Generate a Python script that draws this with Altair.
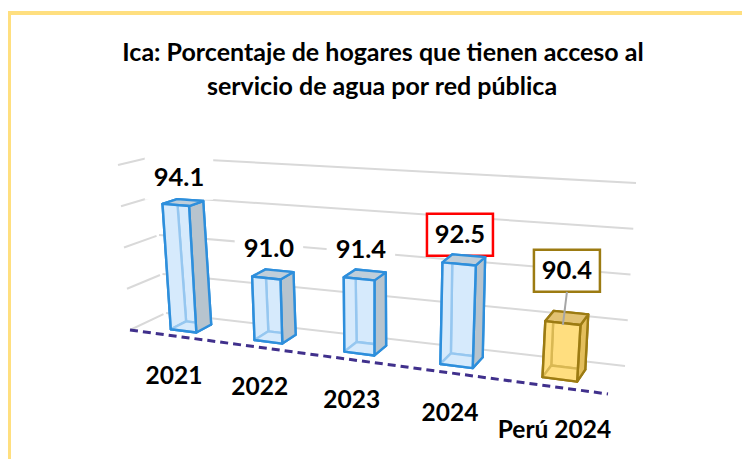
import altair as alt
import pandas as pd

# ---- chart values ----
categories = ["2021", "2022", "2023", "2024", "Perú 2024"]
values = [94.1, 91.0, 91.4, 92.5, 90.4]
value_labels = ["94.1", "91.0", "91.4", "92.5", "90.4"]
grid_values = [88, 90, 92, 94, 96]
title_lines = ["Ica: Porcentaje de hogares que tienen acceso al",
               "servicio de agua por red pública"]

# ---- oblique view of the 3-D plot box: screen position of its corners ----
V_MIN, V_MAX = 88, 96
FLOOR = {"fl": (130, 330), "fr": (608, 394), "bl": (166, 313), "br": (625, 366)}
ROOF = {"fl": (118, 165), "fr": (622, 200), "bl": (152, 157), "br": (636, 183)}


def project(s, d, v):
    t = (v - V_MIN) / (V_MAX - V_MIN)
    out = []
    for k in (0, 1):
        fl = FLOOR["fl"][k] + (FLOOR["fr"][k] - FLOOR["fl"][k]) * s
        bl = FLOOR["bl"][k] + (FLOOR["br"][k] - FLOOR["bl"][k]) * s
        ft = ROOF["fl"][k] + (ROOF["fr"][k] - ROOF["fl"][k]) * s
        bt = ROOF["bl"][k] + (ROOF["br"][k] - ROOF["bl"][k]) * s
        lo = fl + (bl - fl) * d
        hi = ft + (bt - ft) * d
        out.append(lo + (hi - lo) * t)
    return out


def centre(i):
    return 0.092 + 0.173 * i + 0.0065 * i * i


def half(i):
    return 0.027 + 0.0024 * i


D0, D1 = 0.28, 0.72
BLUE = dict(stroke="#2E8FDC", front="rgba(214,234,252,0.62)", side="#B7C4CE",
            top="#BFCEDA", inner="#D6E9FB")
GOLD = dict(stroke="#9C7B12", front="rgba(255,221,125,0.62)", side="#E3BE5C",
            top="#E2C272", inner="#FFDF85")

polys = []


def face(name, corners, fill, stroke):
    for k, (s, d, v) in enumerate(corners):
        x, y = project(s, d, v)
        polys.append(dict(poly=name, k=k, x=x, y=y, fill=fill, stroke=stroke))


for i, v in enumerate(values):
    st = GOLD if i == len(values) - 1 else BLUE
    a, b = centre(i) - half(i), centre(i) + half(i)
    base = V_MIN
    face(f"{i:02d}a", [(a, D1, base), (b, D1, base), (b, D1, v), (a, D1, v)], st["inner"], st["stroke"])
    face(f"{i:02d}b", [(a, D0, base), (a, D1, base), (a, D1, v), (a, D0, v)], st["inner"], st["stroke"])
    face(f"{i:02d}c", [(a, D0, base), (b, D0, base), (b, D1, base), (a, D1, base)], st["inner"], st["stroke"])
    face(f"{i:02d}d", [(b, D0, base), (b, D1, base), (b, D1, v), (b, D0, v)], st["side"], st["stroke"])
    face(f"{i:02d}e", [(a, D0, v), (b, D0, v), (b, D1, v), (a, D1, v)], st["top"], st["stroke"])
    face(f"{i:02d}f", [(a, D0, base), (b, D0, base), (b, D0, v), (a, D0, v)], st["front"], st["stroke"])
poly_df = pd.DataFrame(polys)

grid = []
for g in grid_values:
    for name, pts in (("back", [(0, 1), (1, 1)]), ("left", [(0, 0), (0, 0.93)])):
        for k, (s, d) in enumerate(pts):
            x, y = project(s, d, g)
            grid.append(dict(line=f"{g}{name}", k=k, x=x, y=y))
grid_df = pd.DataFrame(grid)

base_df = pd.DataFrame([dict(k=k, x=project(s, 0, V_MIN)[0], y=project(s, 0, V_MIN)[1])
                        for k, s in enumerate((0, 1))])

# data labels hang from the bar tops; category labels from the front edge
labels = []
cats = []
for i, (v, lab, cat) in enumerate(zip(values, value_labels, categories)):
    tx, ty = project(centre(i), (D0 + D1) / 2, v)
    last = i == len(values) - 1
    lx, ly = tx + (0 if last else -4), ty - (47 if last else 25)
    box = "#9C7B12" if last else ("#FF0000" if cat == "2024" else "#FFFFFF")
    labels.append(dict(label=lab, x=lx, y=ly, x0=lx - 33, x1=lx + 33, y0=ly - 21, y1=ly + 21,
                       box=box, tipx=tx - 4, tipy=ty + 7, by=ly + 21))
    fx, fy = project(centre(i), 0, V_MIN)
    cats.append(dict(label=cat, x=fx, y=fy + (44 if last else 41)))
label_df = pd.DataFrame(labels)
cat_df = pd.DataFrame(cats)

title_df = pd.DataFrame({"label": title_lines, "x": [383, 382], "y": [53, 87]})
border_df = pd.DataFrame({"x": [8, 8], "x2": [750, 11], "y": [11, 11], "y2": [15, 459]})

SX = alt.Scale(domain=[8, 742], nice=False, zero=False)
SY = alt.Scale(domain=[459, 8], nice=False, zero=False)
X = alt.X("x:Q", scale=SX, axis=None)
Y = alt.Y("y:Q", scale=SY, axis=None)
FONT = "Lato"

border = alt.Chart(border_df).mark_rect(color="#FFDF7F").encode(x=X, x2="x2:Q", y=Y, y2="y2:Q")

grid_layer = alt.Chart(grid_df).mark_line(color="#D9D9D9", strokeWidth=2).encode(
    x=X, y=Y, detail="line:N", order="k:Q")

baseline = alt.Chart(base_df).mark_line(color="#40308C", strokeWidth=3, strokeDash=[8, 5]).encode(
    x=X, y=Y, order="k:Q")

bars = alt.Chart(poly_df).mark_line(interpolate="linear-closed", strokeWidth=2.4, strokeJoin="round").encode(
    x=X, y=Y, order="k:Q", detail="poly:N",
    fill=alt.Fill("fill:N", scale=None, legend=None),
    color=alt.Color("stroke:N", scale=None, legend=None))

boxes = alt.Chart(label_df).mark_rect(fill="white", strokeWidth=2.5).encode(
    x=alt.X("x0:Q", scale=SX, axis=None), x2="x1:Q",
    y=alt.Y("y0:Q", scale=SY, axis=None), y2="y1:Q",
    stroke=alt.Stroke("box:N", scale=None, legend=None))

tip = alt.Chart(label_df[label_df.label == "90.4"]).mark_rule(color="#A6A6A6", strokeWidth=2).encode(
    x=alt.X("x:Q", scale=SX, axis=None), x2="tipx:Q",
    y=alt.Y("by:Q", scale=SY, axis=None), y2="tipy:Q")

lab_text = alt.Chart(label_df).mark_text(font=FONT, fontWeight="bold", fontSize=25.5, color="black").encode(
    x=X, y=Y, text="label:N")
cat_text = alt.Chart(cat_df).mark_text(font=FONT, fontWeight="bold", fontSize=24.5, color="black").encode(
    x=X, y=Y, text="label:N")
title_text = alt.Chart(title_df).mark_text(font=FONT, fontWeight="bold", fontSize=25, color="black").encode(
    x=X, y=Y, text="label:N")

chart = alt.layer(border, grid_layer, baseline, boxes, bars, tip, lab_text, cat_text, title_text).properties(
    width=734, height=451, padding=0, background="white",
    autosize=alt.AutoSizeParams(type="none"),
).configure_view(stroke=None)

chart.save("out.html", embed_options={"renderer": "svg", "actions": False})
